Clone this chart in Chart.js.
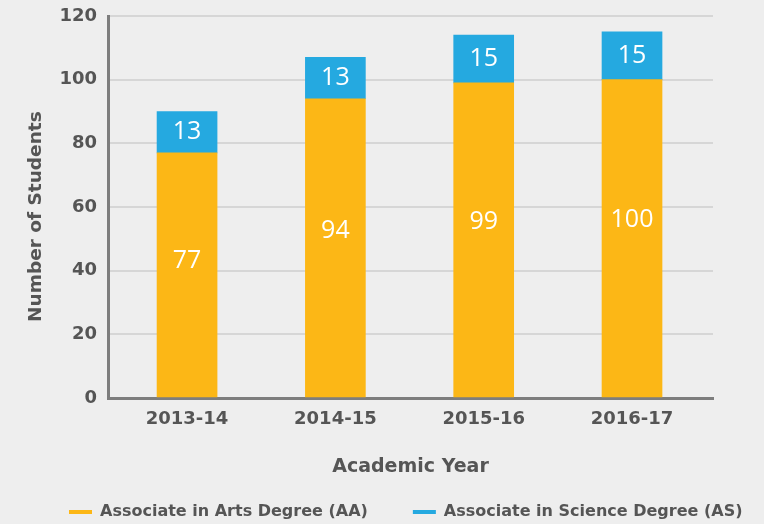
<!DOCTYPE html>
<html>
<head>
<meta charset="utf-8">
<script src="https://cdn.jsdelivr.net/npm/chart.js@4"></script>
<style>
  html, body { margin: 0; padding: 0; background: #eeeeee; }
  canvas { display: block; }
</style>
</head>
<body>
<canvas id="chart" width="764" height="524"></canvas>
<script>
// ---------- Data ----------
const YEARS = ["2013-14", "2014-15", "2015-16", "2016-17"];
const AA_VALUES = [77, 94, 99, 100];
const AS_VALUES = [13, 13, 15, 15];
const SERIES_NAMES = ["Associate in Arts Degree (AA)", "Associate in Science Degree (AS)"];
const Y_TICKS = [0, 20, 40, 60, 80, 100, 120];

const ORANGE = "#fcb716";
const BLUE = "#25a9e0";
const TEXT = "#555555";
const FONT = "'DejaVu Sans'";

// ---------- Plugins ----------
// white value labels inside each stacked segment
const segmentLabels = {
  id: "segmentLabels",
  afterDatasetsDraw(chart) {
    const { ctx } = chart;
    const y = chart.scales.y;
    ctx.save();
    ctx.fillStyle = "#ffffff";
    ctx.font = "25px 'Open Sans'";
    ctx.textAlign = "center";
    ctx.textBaseline = "middle";
    chart.data.datasets.forEach((ds, di) => {
      const meta = chart.getDatasetMeta(di);
      meta.data.forEach((bar, i) => {
        const v = ds.data[i];
        let base = 0;
        for (let k = 0; k < di; k++) base += chart.data.datasets[k].data[i];
        // bottom segment label sits a bit above its middle, top one centred
        const pos = di === 0 ? base + v * 0.56 : base + v / 2;
        ctx.fillText(String(v), bar.x, y.getPixelForValue(pos));
      });
    });
    ctx.restore();
  }
};

// legend drawn as short coloured dashes under the axis title
const dashLegend = {
  id: "dashLegend",
  afterDraw(chart) {
    const { ctx } = chart;
    ctx.save();
    ctx.font = `bold 16px ${FONT}`;
    ctx.textAlign = "left";
    ctx.textBaseline = "middle";
    let x = 69;
    const yMid = 512;
    chart.data.datasets.forEach(ds => {
      ctx.fillStyle = ds.backgroundColor;
      ctx.fillRect(x, yMid - 2, 23, 4);
      ctx.fillStyle = TEXT;
      ctx.fillText(ds.label, x + 31, yMid);
      x += 31 + ctx.measureText(ds.label).width + 45;
    });
    ctx.restore();
  }
};

// ---------- Chart ----------
const ctx = document.getElementById("chart").getContext("2d");
const chart = new Chart(ctx, {
  type: "bar",
  data: {
    labels: YEARS.map((_, i) => i),
    datasets: [
      { label: SERIES_NAMES[0], data: AA_VALUES, backgroundColor: ORANGE },
      { label: SERIES_NAMES[1], data: AS_VALUES, backgroundColor: BLUE },
    ],
  },
  options: {
    responsive: false,
    animation: false,
    layout: { padding: { top: 16, right: 51, left: 0, bottom: 36 } },
    datasets: {
      bar: { barThickness: 60, borderWidth: 0 },
    },
    plugins: {
      legend: { display: false },
      tooltip: { enabled: false },
    },
    scales: {
      x: {
        type: "linear",
        stacked: true,
        offset: false,
        bounds: "data",
        min: -0.533,
        max: 3.546,
        afterFit: s => { s.height = 90; s.paddingLeft = 0; s.paddingRight = 0; },
        afterBuildTicks: s => { s.ticks = YEARS.map((_, i) => ({ value: i })); },
        grid: { display: false, drawTicks: false, offset: false },
        border: { display: true, color: "#7d7d7d", width: 3 },
        ticks: {
          color: TEXT, padding: 11, maxRotation: 0,
          font: { family: FONT, size: 18, weight: "bold" },
          callback: v => YEARS[v],
        },
        title: {
          display: true, text: "Academic Year", color: TEXT,
          font: { family: FONT, size: 19, weight: "bold" },
          padding: { top: 4, bottom: 10 },
        },
      },
      y: {
        stacked: true,
        min: 0,
        max: 120,
        afterFit: s => { s.width = 108; s.paddingTop = 0; s.paddingBottom = 0; },
        afterBuildTicks: s => { s.ticks = Y_TICKS.map(v => ({ value: v })); },
        grid: { color: "#d6d6d6", lineWidth: 2, drawTicks: false },
        border: { display: true, color: "#7d7d7d", width: 3 },
        ticks: { color: TEXT, padding: 11, font: { family: FONT, size: 18, weight: "bold" } },
        title: {
          // trailing spaces nudge the rotated title down a little, as in the original
          display: true, text: "Number of Students   ", color: TEXT,
          font: { family: FONT, size: 18.5, weight: "bold" },
          padding: { top: 25, bottom: 4 },
        },
      },
    },
  },
  plugins: [segmentLabels, dashLegend],
});
</script>
</body>
</html>
